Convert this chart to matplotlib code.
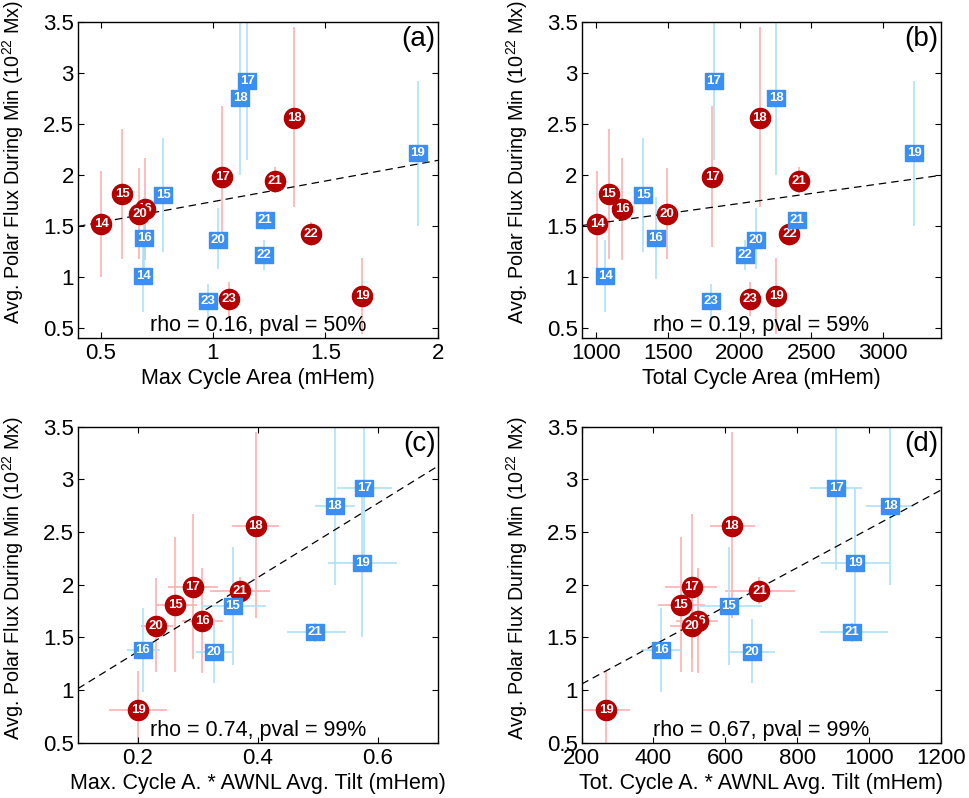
import numpy as np
import matplotlib
matplotlib.use('Agg')
from matplotlib import pyplot as plt

plt.rcParams['font.family'] = ['Liberation Sans', 'DejaVu Sans']
plt.rcParams['mathtext.fontset'] = 'custom'
plt.rcParams['mathtext.rm'] = 'Liberation Sans'
plt.rcParams['mathtext.it'] = 'Liberation Sans:italic'
plt.rcParams['mathtext.bf'] = 'Liberation Sans:bold'

nan = np.nan

# solar cycles, one marker per cycle and hemisphere
cycles = [14, 15, 16, 17, 18, 19, 20, 21, 22, 23]

# polar flux during minimum (10^22 Mx), with error bar ends
red_flux    = [1.52, 1.81, 1.66, 1.98, 2.56, 0.81, 1.61, 1.94, 1.42, 0.78]
red_flux_lo = [1.00, 1.17, 1.16, 1.29, 1.68, 0.44, 1.17, 1.82, 1.30, 0.61]
red_flux_hi = [2.04, 2.45, 2.16, 2.67, 3.45, 1.18, 2.06, 2.07, 1.54, 0.95]

blue_flux    = [1.01, 1.80, 1.38, 2.92, 2.75, 2.21, 1.36, 1.55, 1.21, 0.76]
blue_flux_lo = [0.65, 1.24, 0.98, 2.14, 2.00, 1.50, 1.07, 1.46, 1.06, 0.59]
blue_flux_hi = [1.36, 2.36, 1.78, 3.70, 3.60, 2.92, 1.67, 1.64, 1.36, 0.93]

# max cycle area (mHem)
red_max_area  = [0.503, 0.596, 0.697, 1.041, 1.362, 1.663, 0.673, 1.275, 1.435, 1.073]
blue_max_area = [0.690, 0.779, 0.694, 1.152, 1.122, 1.910, 1.021, 1.230, 1.227, 0.977]

# total cycle area (mHem)
red_tot_area  = [1009, 1088, 1183, 1810, 2139, 2255, 1491, 2410, 2347, 2069]
blue_tot_area = [1063, 1328, 1417, 1819, 2255, 3215, 2116, 2401, 2035, 1803]

# max cycle area * AWNL avg tilt (mHem)
red_max_tilt     = [nan, 0.262, 0.307, 0.291, 0.396, 0.200, 0.230, 0.370, nan, nan]
red_max_tilt_lo  = [nan, 0.228, 0.274, 0.250, 0.356, 0.151, 0.205, 0.320, nan, nan]
red_max_tilt_hi  = [nan, 0.299, 0.342, 0.334, 0.435, 0.249, 0.258, 0.420, nan, nan]
blue_max_tilt    = [nan, 0.358, 0.208, 0.577, 0.528, 0.574, 0.327, 0.495, nan, nan]
blue_max_tilt_lo = [nan, 0.305, 0.181, 0.531, 0.495, 0.517, 0.297, 0.448, nan, nan]
blue_max_tilt_hi = [nan, 0.413, 0.237, 0.623, 0.562, 0.631, 0.357, 0.546, nan, nan]

# total cycle area * AWNL avg tilt (mHem)
red_tot_tilt     = [nan, 476, 525, 506, 618, 268, 506, 695, nan, nan]
red_tot_tilt_lo  = [nan, 413, 462, 432, 557, 198, 446, 598, nan, nan]
red_tot_tilt_hi  = [nan, 543, 580, 576, 683, 335, 543, 793, nan, nan]
blue_tot_tilt    = [nan, 610, 422, 909, 1059, 962, 673, 953, nan, nan]
blue_tot_tilt_lo = [nan, 522, 365, 835, 992, 867, 610, 863, nan, nan]
blue_tot_tilt_hi = [nan, 703, 479, 981, 1127, 1059, 738, 1053, nan, nan]

# fitted dashed lines
fit_slope = [0.405, 1.97e-4, 3.52, 1.84e-3]
fit_icpt  = [1.33, 1.323, 0.662, 0.689]

stats = ['rho = 0.16, pval = 50%', 'rho = 0.19, pval = 59%',
         'rho = 0.74, pval = 99%', 'rho = 0.67, pval = 99%']
xlabels = ['Max Cycle Area (mHem)', 'Total Cycle Area (mHem)',
           'Max. Cycle A. * AWNL Avg. Tilt (mHem)',
           'Tot. Cycle A. * AWNL Avg. Tilt (mHem)']
tags = ['(a)', '(b)', '(c)', '(d)']
ylabel = 'Avg. Polar Flux During Min (10$^{22}$ Mx)'

RED = '#b30000'
RED_ERR = '#ffb0b0'
BLUE = '#3a8ff0'
BLUE_ERR = '#aee0f7'
RECT = [(-1.15, -1), (1.15, -1), (1.15, 1), (-1.15, 1), (-1.15, -1)]


def drawSeries(ax, x, y, ylo, yhi, xlo, xhi, color, ecolor, marker, ms, z):
  x = np.array(x, float)
  y = np.array(y, float)
  yerr = [y - np.array(ylo), np.array(yhi) - y]
  xerr = None
  if xlo is not None:
    xerr = [x - np.array(xlo, float), np.array(xhi, float) - x]
  ax.errorbar(x, y, yerr=yerr, xerr=xerr, fmt='none', ecolor=ecolor,
              elinewidth=1.2, capsize=0, zorder=1)
  for i, c in enumerate(cycles):
    if np.isnan(x[i]):
      continue
    ax.plot(x[i], y[i], marker=marker, ms=ms, color=color, mec=color,
            ls='none', zorder=z + i)
    ax.text(x[i], y[i], str(c), color='white', fontsize=9.5,
            fontweight='bold', ha='center', va='center', zorder=z + i + 0.5)


def setupAxes(ax, n, xlim, ylim, xticks, ylab_y):
  ax.set_xlim(xlim)
  ax.set_ylim(ylim)
  ax.set_xticks(xticks)
  ax.set_xticklabels(['%g' % t for t in xticks])
  yt = [0.5, 1, 1.5, 2, 2.5, 3, 3.5]
  ax.set_yticks(yt)
  ax.set_yticklabels(['%g' % t for t in yt])
  ax.tick_params(direction='in', top=True, right=True, length=4, width=0.8,
                 labelsize=16, pad=4)
  ax.tick_params(axis='y', pad=3)
  for s in ax.spines.values():
    s.set_linewidth(1.0)
  xs = np.array(xlim, float)
  ax.plot(xs, fit_icpt[n] + fit_slope[n] * xs, color='k', lw=0.9,
          dashes=(6, 4), zorder=2)
  ax.set_xlabel(xlabels[n], fontsize=15.5, labelpad=3)
  ax.set_ylabel(ylabel, fontsize=14.2, labelpad=4)
  ax.yaxis.set_label_coords(-0.145, ylab_y)
  ax.text(0.5, 0.038, stats[n], transform=ax.transAxes, fontsize=15.5,
          ha='center', va='center', zorder=50)
  ax.text(0.993, 0.985, tags[n], transform=ax.transAxes, fontsize=20,
          ha='right', va='top', zorder=50)


fig = plt.figure(figsize=(9.69, 7.98), dpi=100)
axa = fig.add_axes([0.0805, 0.5768, 0.3715, 0.396])
axb = fig.add_axes([0.6003, 0.5768, 0.3705, 0.396])
axc = fig.add_axes([0.0805, 0.0693, 0.3715, 0.396])
axd = fig.add_axes([0.6003, 0.0693, 0.3705, 0.396])

panels = [
  (axa, red_max_area, None, None, blue_max_area, None, None),
  (axb, red_tot_area, None, None, blue_tot_area, None, None),
  (axc, red_max_tilt, red_max_tilt_lo, red_max_tilt_hi,
   blue_max_tilt, blue_max_tilt_lo, blue_max_tilt_hi),
  (axd, red_tot_tilt, red_tot_tilt_lo, red_tot_tilt_hi,
   blue_tot_tilt, blue_tot_tilt_lo, blue_tot_tilt_hi),
]
limits = [((0.4, 2), (0.4, 3.5), [0.5, 1, 1.5, 2], 0.555),
          ((900, 3400), (0.4, 3.5), [1000, 1500, 2000, 2500, 3000], 0.555),
          ((0.1, 0.7), (0.5, 3.5), [0.2, 0.4, 0.6], 0.52),
          ((200, 1200), (0.5, 3.5), [200, 400, 600, 800, 1000, 1200], 0.52)]

for n, (ax, rx, rlo, rhi, bx, blo, bhi) in enumerate(panels):
  drawSeries(ax, rx, red_flux, red_flux_lo, red_flux_hi, rlo, rhi,
             RED, RED_ERR, 'o', 14.5, 10)
  drawSeries(ax, bx, blue_flux, blue_flux_lo, blue_flux_hi, blo, bhi,
             BLUE, BLUE_ERR, RECT, 12.5, 30)
  setupAxes(ax, n, *limits[n])

fig.savefig('out.png', dpi=100)
